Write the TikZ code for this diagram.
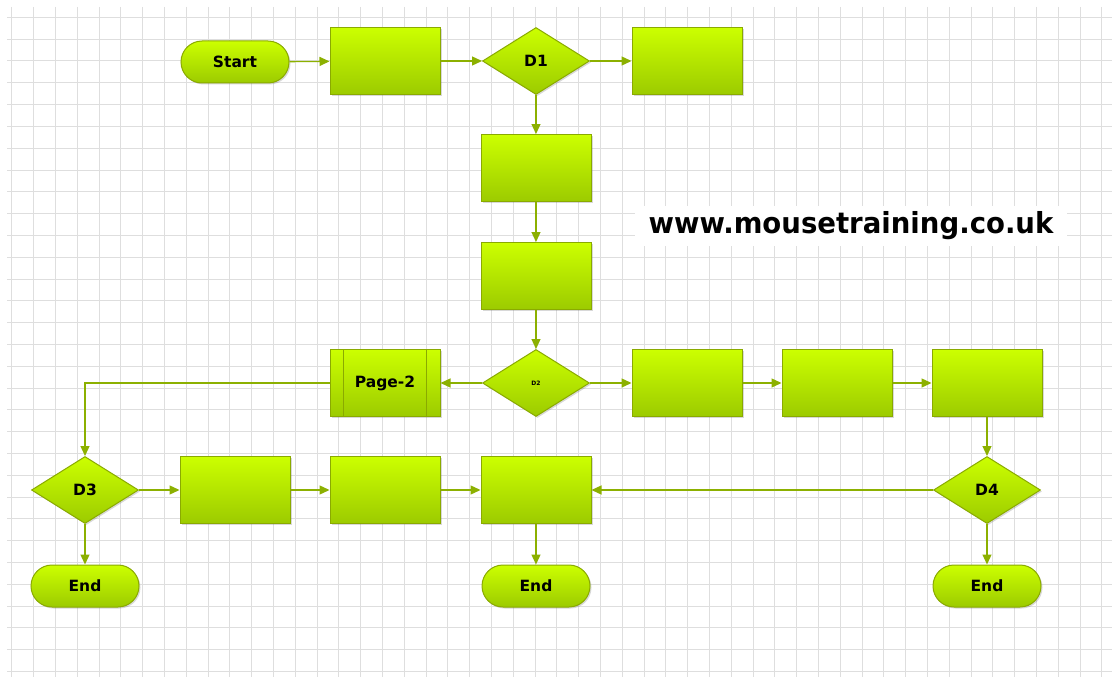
\documentclass[tikz,border=0pt]{standalone}
\usepackage{fontspec}
\setmainfont{DejaVu Sans}
\usetikzlibrary{shapes.geometric,shapes.misc,arrows.meta,calc,shadows}
\definecolor{limetop}{HTML}{CCFF00}
\definecolor{limebot}{HTML}{9CCB00}
\definecolor{limeline}{HTML}{8AAA00}
\definecolor{conn}{HTML}{8CB000}
\definecolor{gridc}{HTML}{DEDEDE}
\tikzset{
  fc/.style={top color=limetop, bottom color=limebot, draw=limeline, line width=1pt,
    font=\bfseries\fontsize{15.5}{15.5}\selectfont,
    drop shadow={shadow xshift=1.5pt, shadow yshift=-1.5pt, opacity=0.25, fill=black!60}},
  boxnode/.style={fc, rectangle, minimum width=110pt, minimum height=67pt, inner sep=0pt},
  decnode/.style={fc, diamond, minimum width=107pt, minimum height=67pt, inner sep=0pt},
  termnode/.style={fc, rounded rectangle, minimum width=108pt, minimum height=42pt, inner sep=0pt},
  link/.style={draw=conn, line width=1.3pt, -{Triangle[length=10pt,width=9pt]}},
  gridline/.style={draw=gridc, line width=0.8pt},
}
\begin{document}
\begin{tikzpicture}[x=1pt,y=-1pt]
\useasboundingbox (0,0) rectangle (1112,677);
\fill[white] (0,0) rectangle (1112,677);
% grid
\foreach \i in {0,...,50} {\draw[gridline] ({11.7+21.8*\i},7) -- ({11.7+21.8*\i},677);}
\foreach \j in {0,...,30} {\draw[gridline] (7,{17.3+21.8*\j}) -- (1112,{17.3+21.8*\j});}
% url
\node[fill=white, minimum width=432pt, minimum height=40pt, inner sep=0pt] (url) at (851,226)
  {\scalebox{0.95}[1]{\bfseries\fontsize{29}{29}\selectfont www.mousetraining.co.uk}};
% nodes
\node[termnode] (start) at (235,62) {Start};
\node[boxnode] (b1) at (385,61) {};
\node[decnode] (d1) at (536,61) {D1};
\node[boxnode] (b2) at (687,61) {};
\node[boxnode] (b3) at (536,168) {};
\node[boxnode] (b4) at (536,276) {};
\node[decnode, font=\bfseries\fontsize{6}{6}\selectfont] (d2) at (536,383) {D2};
\node[boxnode] (pg) at (385,383) {Page-2};
\draw[limeline, line width=1pt] ($(pg.north west)+(14,0)$) -- ($(pg.south west)+(14,0)$)
  ($(pg.north east)+(-14,0)$) -- ($(pg.south east)+(-14,0)$);
\node[boxnode] (p1) at (687,383) {};
\node[boxnode] (p2) at (837,383) {};
\node[boxnode] (p3) at (987,383) {};
\node[decnode] (d3) at (85,490) {D3};
\node[boxnode] (r1) at (235,490) {};
\node[boxnode] (r2) at (385,490) {};
\node[boxnode] (r3) at (536,490) {};
\node[decnode] (d4) at (987,490) {D4};
\node[termnode] (e1) at (85,586) {End};
\node[termnode] (e2) at (536,586) {End};
\node[termnode] (e3) at (987,586) {End};
% connectors
\draw[link] (start) -- (b1);
\draw[link] (b1) -- (d1);
\draw[link] (d1) -- (b2);
\draw[link] (d1) -- (b3);
\draw[link] (b3) -- (b4);
\draw[link] (b4) -- (d2);
\draw[link] (d2) -- (pg);
\draw[link] (pg.west) -| (d3.north);
\draw[link] (d2) -- (p1);
\draw[link] (p1) -- (p2);
\draw[link] (p2) -- (p3);
\draw[link] (p3) -- (d4);
\draw[link] (d3) -- (r1);
\draw[link] (r1) -- (r2);
\draw[link] (r2) -- (r3);
\draw[link] (d4) -- (r3);
\draw[link] (d3) -- (e1);
\draw[link] (r3) -- (e2);
\draw[link] (d4) -- (e3);
\end{tikzpicture}
\end{document}
